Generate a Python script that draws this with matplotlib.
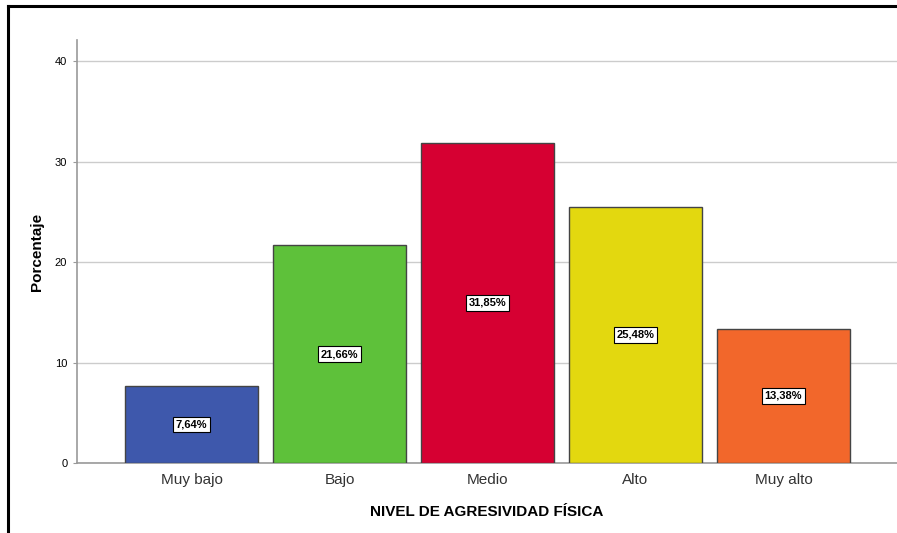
import matplotlib
matplotlib.use("Agg")
import matplotlib.pyplot as plt
from matplotlib.lines import Line2D

categories = ["Muy bajo", "Bajo", "Medio", "Alto", "Muy alto"]
values = [7.64, 21.66, 31.85, 25.48, 13.38]
labels = ["7,64%", "21,66%", "31,85%", "25,48%", "13,38%"]
colors = ["#3E58AC", "#5EC13A", "#D60032", "#E3D80F", "#F2672B"]
yticks = [0, 10, 20, 30, 40]

plt.rcParams["font.family"] = ["Liberation Sans", "DejaVu Sans"]

fig = plt.figure(figsize=(8.97, 5.33), dpi=100)
ax = fig.add_axes([77/897, 70/533, 820/897, 423/533])

x = list(range(len(categories)))
ax.bar(x, values, width=0.9, color=colors, edgecolor="#444444", linewidth=1.0, zorder=3)
for xi, v, lab in zip(x, values, labels):
    ax.text(xi, v/2, lab, ha="center", va="center", fontsize=8, fontweight="bold",
            bbox=dict(boxstyle="square,pad=0.25", fc="white", ec="black", lw=0.8), zorder=4)

ax.set_xlim(-0.774, 4.767)
ax.set_ylim(0, 42.1)
ax.set_yticks(yticks)
ax.set_xticks(x)
ax.set_xticklabels(categories, fontsize=11, color="#333333")
ax.tick_params(axis="y", labelsize=8, length=3, color="#999999", pad=4)
ax.tick_params(axis="x", length=0, pad=7)
ax.yaxis.grid(True, color="#cccccc", linewidth=1.0, zorder=0)
ax.set_axisbelow(True)
for s in ["top", "right"]:
    ax.spines[s].set_visible(False)
ax.spines["left"].set_color("#999999")
ax.spines["bottom"].set_color("#999999")
ax.spines["left"].set_linewidth(1.2)
ax.spines["bottom"].set_linewidth(1.2)

ax.set_xlabel("NIVEL DE AGRESIVIDAD FÍSICA", fontsize=11, fontweight="bold", labelpad=13)
ax.set_ylabel("Porcentaje", fontsize=11, fontweight="bold", labelpad=8)

# outer frame (left and top)
fig.add_artist(Line2D([7.5/897, 7.5/897], [0, 1 - 5.5/533], color="black", lw=2.2, transform=fig.transFigure))
fig.add_artist(Line2D([7.5/897, 1], [1 - 5.5/533, 1 - 5.5/533], color="black", lw=2.2, transform=fig.transFigure))

fig.savefig("out.png", dpi=100)
